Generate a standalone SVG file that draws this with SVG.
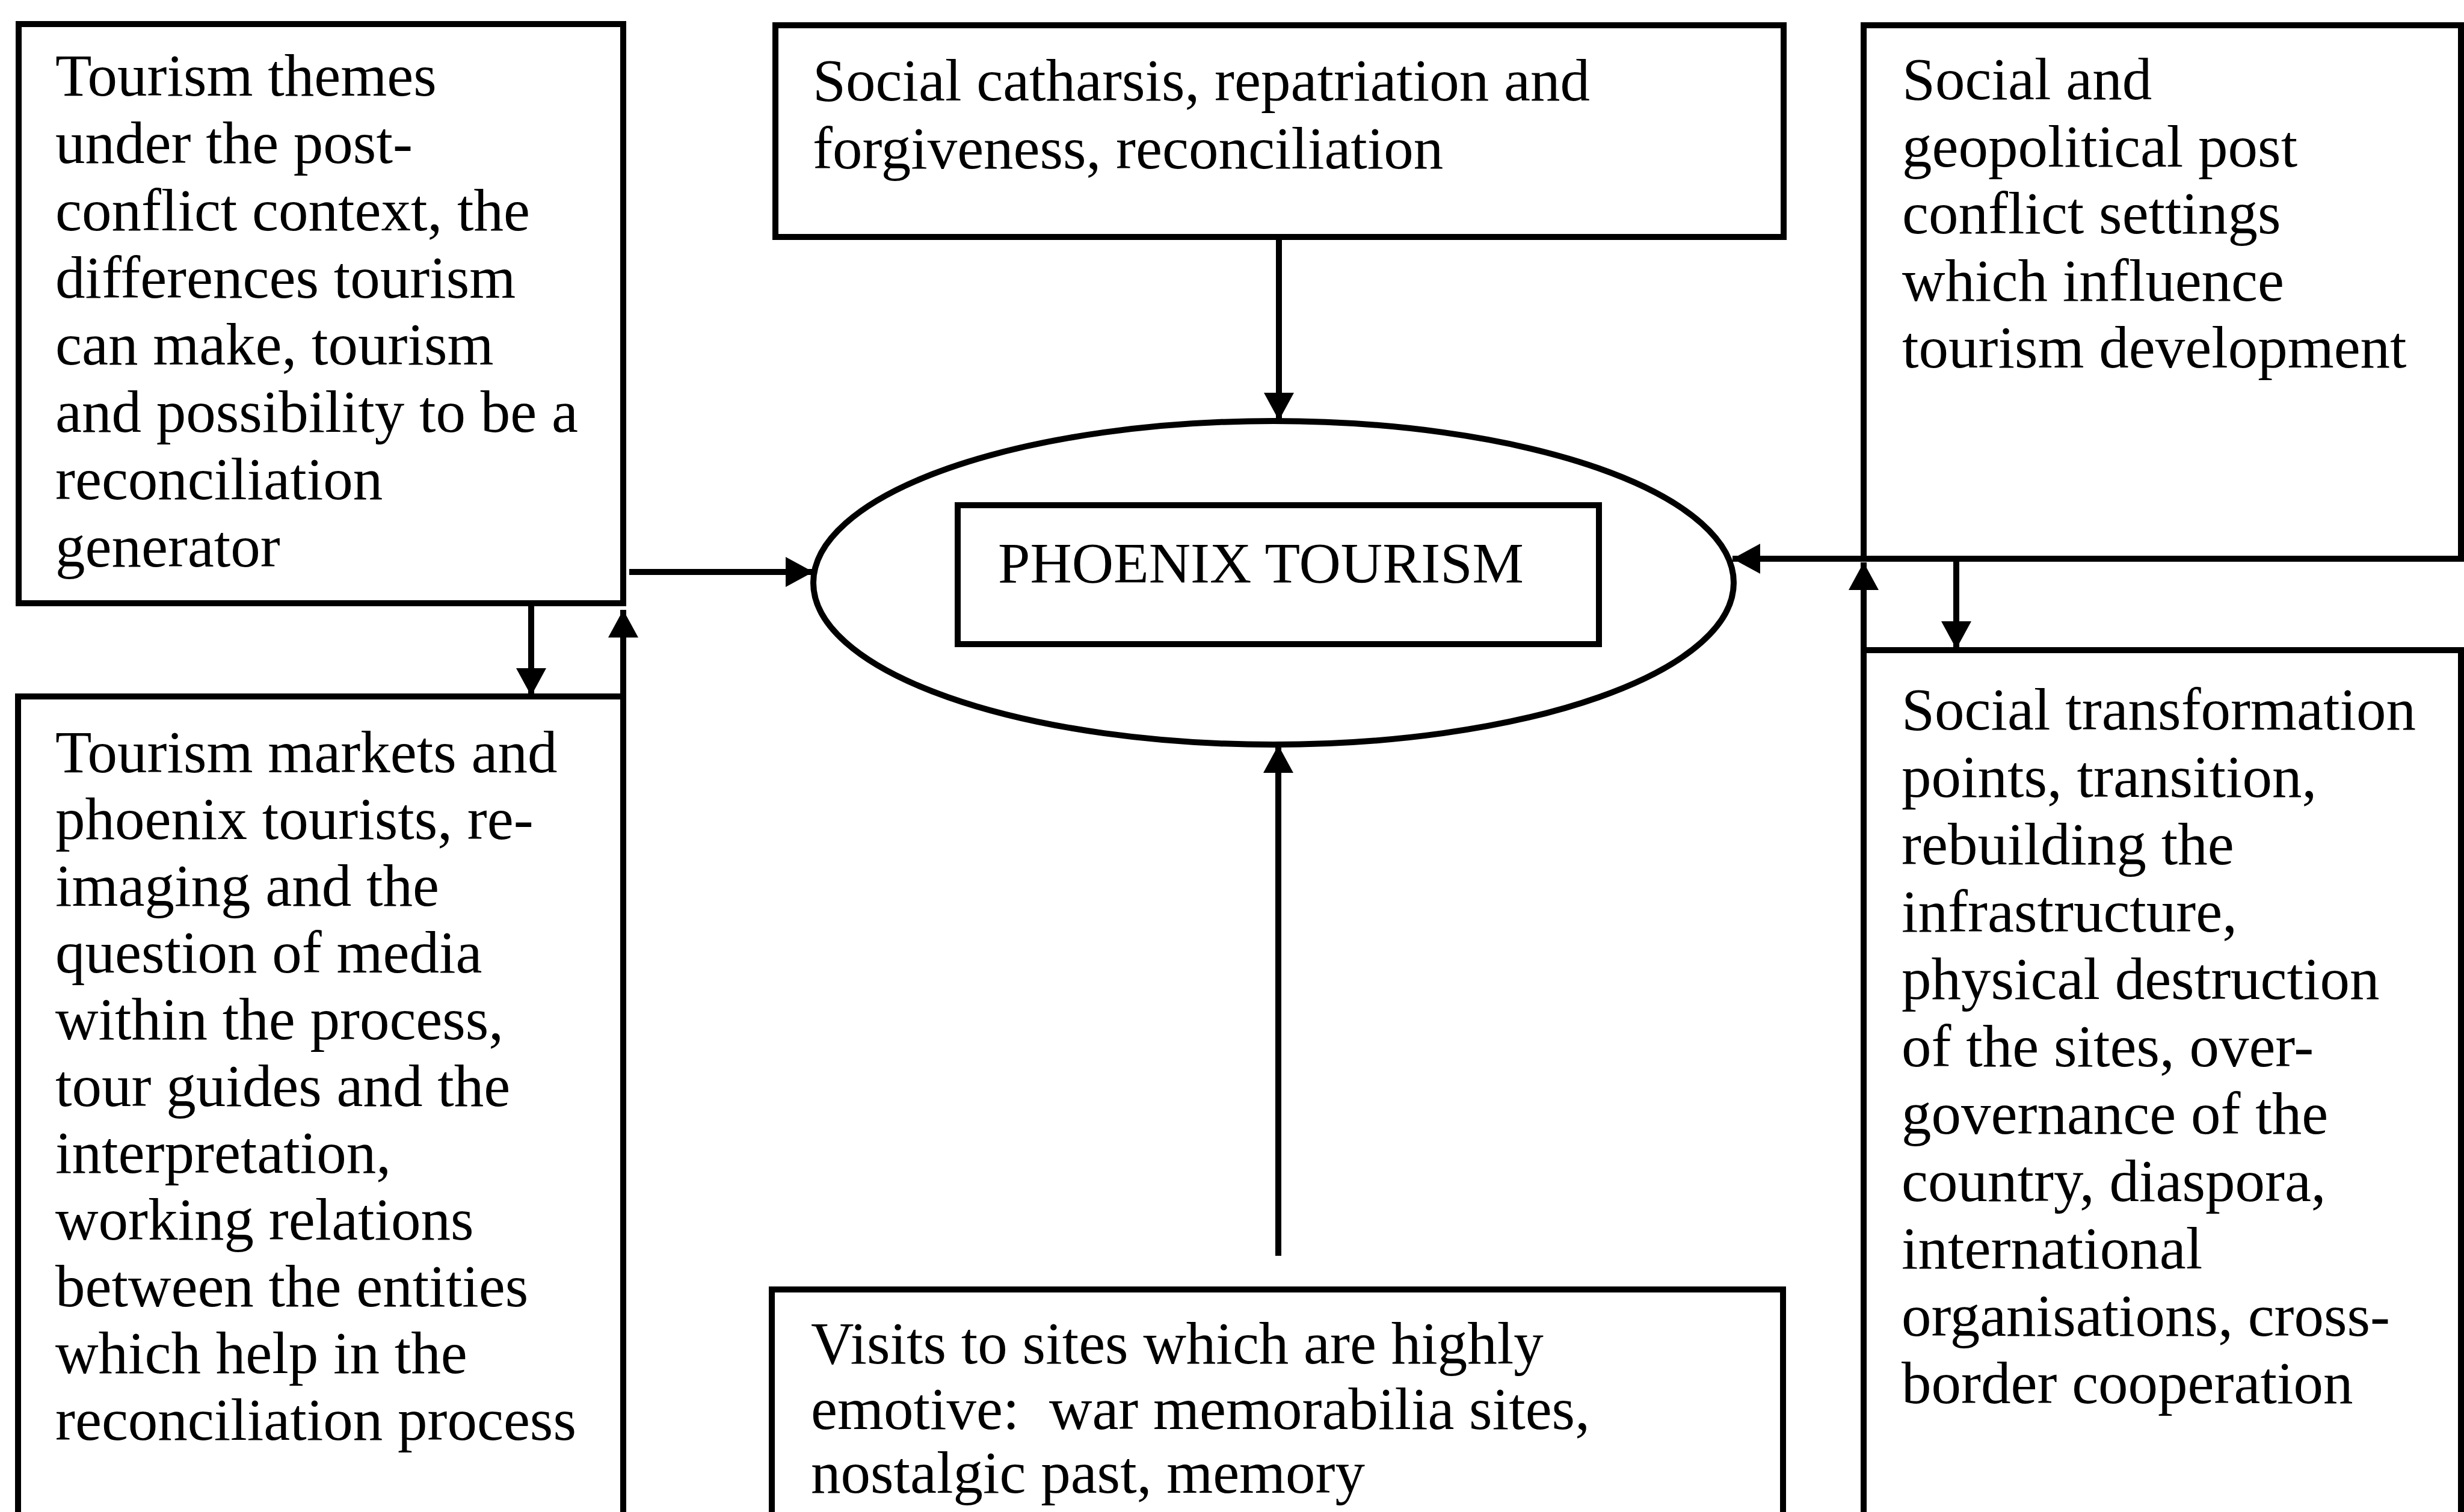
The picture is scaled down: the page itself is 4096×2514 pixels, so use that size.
<svg xmlns="http://www.w3.org/2000/svg" width="4096" height="2514" viewBox="0 0 4096 2514">
  <style>
    .box { fill: none; stroke: #000; stroke-width: 10; }
    .lbl { font-family: "Liberation Serif", "Times New Roman", serif; font-size: 99px; fill: #000; }
    .title { font-family: "Liberation Serif", "Times New Roman", serif; font-size: 96px; fill: #000; }
    .wire { fill: none; stroke: #000; stroke-width: 10; marker-end: url(#head); }
  </style>
  <defs>
    <marker id="head" markerUnits="userSpaceOnUse" markerWidth="46" markerHeight="50" viewBox="0 0 46 50" refX="46" refY="25" orient="auto">
      <path d="M0,0 L46,25 L0,50 Z" fill="#000"/>
    </marker>
  </defs>
  <rect width="4096" height="2514" fill="#fff"/>

  <!-- top-left: themes -->
  <g id="themes">
    <rect class="box" x="31" y="40" width="1005" height="963"/>
    <text class="lbl" x="92" y="159">Tourism themes</text>
    <text class="lbl" x="92" y="271">under the post-</text>
    <text class="lbl" x="92" y="383">conflict context, the</text>
    <text class="lbl" x="92" y="495">differences tourism</text>
    <text class="lbl" x="92" y="606">can make, tourism</text>
    <text class="lbl" x="92" y="718">and possibility to be a</text>
    <text class="lbl" x="92" y="830">reconciliation</text>
    <text class="lbl" x="92" y="942">generator</text>
  </g>

  <!-- top-centre: catharsis -->
  <g id="catharsis">
    <rect class="box" x="1289" y="42" width="1676" height="352"/>
    <text class="lbl" x="1351" y="167">Social catharsis, repatriation and</text>
    <text class="lbl" x="1351" y="280">forgiveness, reconciliation</text>
  </g>

  <!-- top-right: settings -->
  <g id="settings">
    <rect class="box" x="3098" y="42" width="993" height="887"/>
    <text class="lbl" x="3162" y="165">Social and</text>
    <text class="lbl" x="3162" y="277">geopolitical post</text>
    <text class="lbl" x="3162" y="388">conflict settings</text>
    <text class="lbl" x="3162" y="500">which influence</text>
    <text class="lbl" x="3162" y="611">tourism development</text>
  </g>

  <!-- right: transformation -->
  <g id="transformation">
    <rect class="box" x="3098" y="1081" width="993" height="1500"/>
    <text class="lbl" x="3161" y="1213">Social transformation</text>
    <text class="lbl" x="3161" y="1325">points, transition,</text>
    <text class="lbl" x="3161" y="1437">rebuilding the</text>
    <text class="lbl" x="3161" y="1549">infrastructure,</text>
    <text class="lbl" x="3161" y="1661">physical destruction</text>
    <text class="lbl" x="3161" y="1773">of the sites, over-</text>
    <text class="lbl" x="3161" y="1885">governance of the</text>
    <text class="lbl" x="3161" y="1997">country, diaspora,</text>
    <text class="lbl" x="3161" y="2109">international</text>
    <text class="lbl" x="3161" y="2221">organisations, cross-</text>
    <text class="lbl" x="3161" y="2333">border cooperation</text>
  </g>

  <!-- left: markets -->
  <g id="markets">
    <rect class="box" x="30" y="1158" width="1006" height="1500"/>
    <text class="lbl" x="92" y="1284">Tourism markets and</text>
    <text class="lbl" x="92" y="1395">phoenix tourists, re-</text>
    <text class="lbl" x="92" y="1506">imaging and the</text>
    <text class="lbl" x="92" y="1617">question of media</text>
    <text class="lbl" x="92" y="1728">within the process,</text>
    <text class="lbl" x="92" y="1839">tour guides and the</text>
    <text class="lbl" x="92" y="1950">interpretation,</text>
    <text class="lbl" x="92" y="2061">working relations</text>
    <text class="lbl" x="92" y="2172">between the entities</text>
    <text class="lbl" x="92" y="2283">which help in the</text>
    <text class="lbl" x="92" y="2394">reconciliation process</text>
  </g>

  <!-- bottom-centre: visits -->
  <g id="visits">
    <rect class="box" x="1283" y="2144" width="1681" height="500"/>
    <text class="lbl" x="1348" y="2267">Visits to sites which are highly</text>
    <text class="lbl" x="1348" y="2376" xml:space="preserve">emotive:  war memorabilia sites,</text>
    <text class="lbl" x="1348" y="2482">nostalgic past, memory</text>
  </g>

  <!-- centre: phoenix tourism -->
  <g id="phoenix">
    <ellipse class="box" cx="2117" cy="969" rx="765" ry="269"/>
    <rect class="box" x="1592" y="840" width="1066" height="231"/>
    <text class="title" x="1659" y="969">PHOENIX TOURISM</text>
  </g>

  <!-- connectors -->
  <g id="connectors">
    <line class="wire" x1="1046" y1="951" x2="1352" y2="951"/>
    <line class="wire" x1="2126" y1="394" x2="2126" y2="699"/>
    <line class="wire" x1="2125" y1="2088" x2="2125" y2="1239"/>
    <line class="wire" x1="3098" y1="929" x2="2880" y2="929"/>
    <line class="wire" x1="883" y1="1003" x2="883" y2="1157"/>
    <line class="wire" x1="1036" y1="1163" x2="1036" y2="1014"/>
    <line class="wire" x1="3252" y1="929" x2="3252" y2="1079"/>
    <line class="wire" x1="3098" y1="1086" x2="3098" y2="935"/>
  </g>
</svg>
